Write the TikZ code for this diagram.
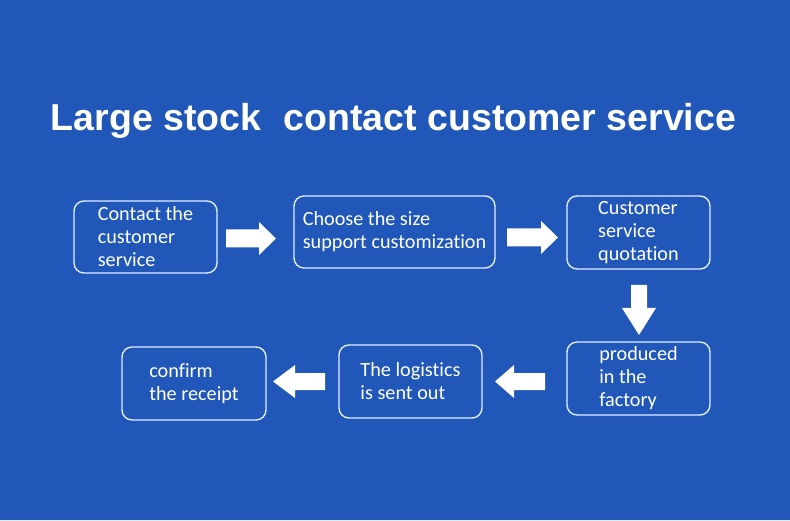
\documentclass[tikz,border=0pt]{standalone}
\usepackage{fontspec}
\setmainfont{Carlito}[Ligatures=NoCommon]
\newfontfamily\titlefont{Liberation Sans}
\definecolor{bgblue}{RGB}{32,87,184}
\definecolor{edge}{RGB}{225,236,255}
\begin{document}
\begin{tikzpicture}[x=1pt,y=-1pt,
  box/.style={draw=edge, line width=1.4pt, rounded corners=10pt, text=white,
    align=left, inner sep=0pt, font=\fontsize{20.2}{23}\selectfont},
  blk/.style={fill=white}]
\fill[bgblue] (0,0) rectangle (790,521);
\useasboundingbox (0,0) rectangle (790,521);
\fill[edge] (0,519.5) rectangle (790,521);
\node[anchor=base, text=white, font=\titlefont\bfseries\fontsize{37.5}{40}\selectfont] (title) at (393.5,131)
  {Large stock\hspace{0.6em}contact customer service};
\node[box, minimum width=143pt, minimum height=72pt] (b1) at (145.5,237) {Contact the\\customer\\service};
\node[box, minimum width=201pt, minimum height=72pt] (b2) at (394.5,232) {Choose the size\\support customization};
\node[box, minimum width=143pt, minimum height=73pt] (b3) at (638.5,232.5) {Customer\\service\\quotation};
\node[box, minimum width=143pt, minimum height=73pt] (b4) at (638.5,378.5) {produced\\in the\\factory};
\node[box, minimum width=143pt, minimum height=73pt] (b5) at (410.5,381.5) {The logistics\\is sent out};
\node[box, minimum width=144pt, minimum height=73pt] (b6) at (194,383.5) {confirm\\the receipt};
% block arrows
\fill[blk] (226,229.5) -- (259,229.5) -- (259,222) -- (276,238.5) -- (259,255) -- (259,247.5) -- (226,247.5) -- cycle;
\fill[blk] (507,228.5) -- (541,228.5) -- (541,221) -- (558,237.5) -- (541,254) -- (541,246.5) -- (507,246.5) -- cycle;
\fill[blk] (631,285) -- (647,285) -- (647,308) -- (656,308) -- (639,335) -- (622,308) -- (631,308) -- cycle;
\fill[blk] (545,373) -- (514,373) -- (514,365) -- (495,381.5) -- (514,398) -- (514,390) -- (545,390) -- cycle;
\fill[blk] (325,373) -- (295,373) -- (295,365) -- (273,381.5) -- (295,398) -- (295,390) -- (325,390) -- cycle;
\end{tikzpicture}
\end{document}
